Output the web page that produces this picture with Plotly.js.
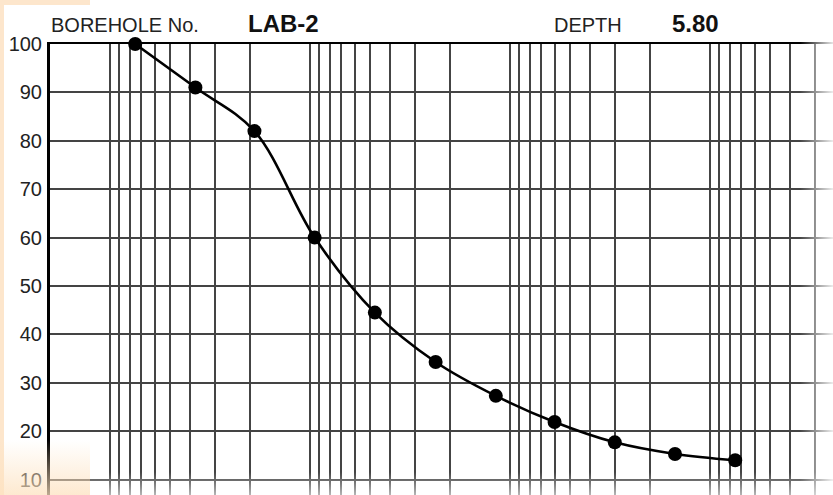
<!DOCTYPE html>
<html>
<head>
<meta charset="utf-8">
<script src="https://cdn.plot.ly/plotly-3.0.1.min.js"></script>
<style>
  html, body { margin: 0; padding: 0; width: 833px; height: 495px; overflow: hidden; background: #ffffff; }
  #chart { position: absolute; left: 0; top: 0; width: 1050px; height: 550px; }
  .deco { position: absolute; pointer-events: none; }
</style>
</head>
<body>
<div class="deco" style="left:0;top:0;width:4px;height:495px;background:#fde6cc;"></div>
<div class="deco" style="left:0;top:0;width:90px;height:5px;background:#fde6cc;"></div>
<div id="chart"></div>
<div class="deco" style="left:800px;top:0;width:33px;height:495px;background:linear-gradient(to right, rgba(255,255,255,0), rgba(255,255,255,0.9));z-index:5;"></div>
<div class="deco" style="left:90px;top:472px;width:743px;height:23px;background:linear-gradient(to bottom, rgba(255,255,255,0), rgba(255,255,255,0.6));z-index:5;"></div>
<div class="deco" style="left:0;top:440px;width:90px;height:55px;background:linear-gradient(to bottom, rgba(253,226,192,0), rgba(253,226,192,0.75));z-index:6;"></div>
<script>
// Sieve sizes (mm) and percent passing
const sieveSize = [75, 37.5, 19, 9.5, 4.75, 2.36, 1.18, 0.6, 0.3, 0.15, 0.075];
const percentPassing = [100, 91, 82, 60, 44.5, 34.3, 27.3, 21.9, 17.7, 15.3, 14.0];
const yTickVals = [10, 20, 30, 40, 50, 60, 70, 80, 90, 100];
const boreholeLabel = "BOREHOLE No.";
const boreholeNo = "LAB-2";
const depthLabel = "DEPTH";
const depthValue = "5.80";

const trace = {
  x: sieveSize,
  y: percentPassing,
  type: 'scatter',
  mode: 'lines+markers',
  line: { color: '#000000', width: 2.6, shape: 'spline', smoothing: 1 },
  marker: { color: '#000000', size: 14 },
  cliponaxis: false,
  hoverinfo: 'x+y'
};

const layout = {
  width: 1050,
  height: 550,
  margin: { l: 50, r: 0, t: 43.8, b: 22 },
  paper_bgcolor: 'rgba(0,0,0,0)',
  plot_bgcolor: 'rgba(0,0,0,0)',
  showlegend: false,
  font: { family: 'Liberation Sans, Arial, sans-serif', color: '#222222' },
  xaxis: {
    type: 'log',
    range: [Math.log10(200), Math.log10(0.002)],
    dtick: 'D1',
    showticklabels: false,
    ticks: '',
    showgrid: true,
    gridcolor: '#444444',
    gridwidth: 2,
    showline: true,
    mirror: true,
    linecolor: '#000000',
    linewidth: 2.2,
    zeroline: false
  },
  yaxis: {
    range: [0, 100],
    tickvals: yTickVals,
    ticktext: yTickVals.map(String),
    ticks: '',
    ticklabelstandoff: 1,
    tickfont: { size: 20, color: '#222222' },
    showgrid: true,
    gridcolor: '#444444',
    gridwidth: 2,
    showline: true,
    mirror: true,
    linecolor: '#000000',
    linewidth: 3,
    zeroline: false
  },
  annotations: [
    { text: boreholeLabel, xref: 'paper', yref: 'paper', x: -0.001, y: 1.0388, xanchor: 'left', yanchor: 'middle', showarrow: false, font: { size: 20, color: '#222222' } },
    { text: '<b>' + boreholeNo + '</b>', xref: 'paper', yref: 'paper', x: 0.196, y: 1.0417, xanchor: 'left', yanchor: 'middle', showarrow: false, font: { size: 24, color: '#111111' } },
    { text: depthLabel, xref: 'paper', yref: 'paper', x: 0.502, y: 1.0388, xanchor: 'left', yanchor: 'middle', showarrow: false, font: { size: 20, color: '#222222' } },
    { text: '<b>' + depthValue + '</b>', xref: 'paper', yref: 'paper', x: 0.6197, y: 1.0417, xanchor: 'left', yanchor: 'middle', showarrow: false, font: { size: 24, color: '#111111' } }
  ]
};

Plotly.newPlot('chart', [trace], layout, { displayModeBar: false, staticPlot: true });
</script>
</body>
</html>
